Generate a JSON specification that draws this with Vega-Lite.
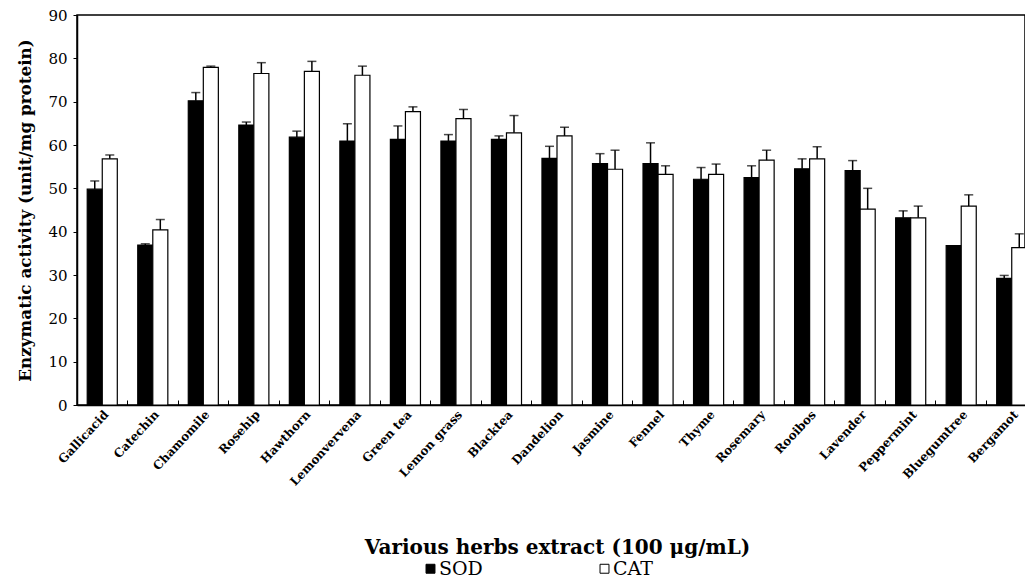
{
  "$schema": "https://vega.github.io/schema/vega-lite/v6.json",
  "autosize": {"type": "none"},
  "width": 948,
  "height": 390,
  "padding": {"left": 77, "top": 15, "right": 0, "bottom": 176},
  "config": {
    "font": "DejaVu Serif",
    "view": {"stroke": "black", "strokeWidth": 1.5},
    "axis": {"grid": false, "domainColor": "black", "tickColor": "black", "labelColor": "black", "titleColor": "black", "labelFont": "DejaVu Serif", "titleFont": "DejaVu Serif"},
    "legend": {"labelFont": "DejaVu Serif", "labelColor": "black"}
  },
  "data": {
    "values": [
      {"herb": "Gallicacid", "type": "SOD", "value": 49.8, "err": 1.9},
      {"herb": "Gallicacid", "type": "CAT", "value": 56.8, "err": 0.9},
      {"herb": "Catechin", "type": "SOD", "value": 36.9, "err": 0.3},
      {"herb": "Catechin", "type": "CAT", "value": 40.4, "err": 2.4},
      {"herb": "Chamomile", "type": "SOD", "value": 70.2, "err": 1.9},
      {"herb": "Chamomile", "type": "CAT", "value": 77.9, "err": 0.3},
      {"herb": "Rosehip", "type": "SOD", "value": 64.6, "err": 0.7},
      {"herb": "Rosehip", "type": "CAT", "value": 76.5, "err": 2.5},
      {"herb": "Hawthorn", "type": "SOD", "value": 61.8, "err": 1.4},
      {"herb": "Hawthorn", "type": "CAT", "value": 77.0, "err": 2.3},
      {"herb": "Lemonvervena", "type": "SOD", "value": 60.9, "err": 4.0},
      {"herb": "Lemonvervena", "type": "CAT", "value": 76.1, "err": 2.1},
      {"herb": "Green tea", "type": "SOD", "value": 61.3, "err": 3.1},
      {"herb": "Green tea", "type": "CAT", "value": 67.7, "err": 1.1},
      {"herb": "Lemon grass", "type": "SOD", "value": 60.9, "err": 1.5},
      {"herb": "Lemon grass", "type": "CAT", "value": 66.1, "err": 2.1},
      {"herb": "Blacktea", "type": "SOD", "value": 61.3, "err": 0.8},
      {"herb": "Blacktea", "type": "CAT", "value": 62.8, "err": 4.0},
      {"herb": "Dandelion", "type": "SOD", "value": 56.9, "err": 2.8},
      {"herb": "Dandelion", "type": "CAT", "value": 62.1, "err": 2.0},
      {"herb": "Jasmine", "type": "SOD", "value": 55.7, "err": 2.3},
      {"herb": "Jasmine", "type": "CAT", "value": 54.4, "err": 4.4},
      {"herb": "Fennel", "type": "SOD", "value": 55.7, "err": 4.8},
      {"herb": "Fennel", "type": "CAT", "value": 53.2, "err": 2.0},
      {"herb": "Thyme", "type": "SOD", "value": 52.1, "err": 2.7},
      {"herb": "Thyme", "type": "CAT", "value": 53.2, "err": 2.4},
      {"herb": "Rosemary", "type": "SOD", "value": 52.5, "err": 2.7},
      {"herb": "Rosemary", "type": "CAT", "value": 56.5, "err": 2.3},
      {"herb": "Rooibos", "type": "SOD", "value": 54.5, "err": 2.3},
      {"herb": "Rooibos", "type": "CAT", "value": 56.8, "err": 2.8},
      {"herb": "Lavender", "type": "SOD", "value": 54.1, "err": 2.3},
      {"herb": "Lavender", "type": "CAT", "value": 45.2, "err": 4.8},
      {"herb": "Peppermint", "type": "SOD", "value": 43.2, "err": 1.6},
      {"herb": "Peppermint", "type": "CAT", "value": 43.2, "err": 2.7},
      {"herb": "Bluegumtree", "type": "SOD", "value": 36.8, "err": null},
      {"herb": "Bluegumtree", "type": "CAT", "value": 45.9, "err": 2.6},
      {"herb": "Bergamot", "type": "SOD", "value": 29.2, "err": 0.7},
      {"herb": "Bergamot", "type": "CAT", "value": 36.3, "err": 3.2}
    ]
  },
  "encoding": {
    "x": {
      "field": "herb", "type": "nominal", "sort": null,
      "scale": {"paddingInner": 0, "paddingOuter": 0, "range": [0, 960]},
      "axis": {
        "title": "Various herbs extract (100 μg/mL)",
        "titleFontSize": 20, "titleFontWeight": "bold", "titlePadding": 50, "titleX": 480,
        "labelAngle": -47, "labelAlign": "right", "labelBaseline": "middle",
        "labelFontSize": 12, "labelFontWeight": "bold", "labelPadding": 12, "labelOffset": 4,
        "bandPosition": 0, "tickSize": -5, "tickWidth": 1, "domainWidth": 1.5
      }
    },
    "xOffset": {"field": "type", "type": "nominal", "sort": ["SOD", "CAT"], "scale": {"paddingOuter": 0.68, "paddingInner": 0}},
    "y": {
      "field": "value", "type": "quantitative",
      "scale": {"domain": [0, 90], "nice": false},
      "axis": {
        "title": "Enzymatic activity (unit/mg protein)",
        "titleFontSize": 16.8, "titleFontWeight": "bold", "titlePadding": 13,
        "values": [0, 10, 20, 30, 40, 50, 60, 70, 80, 90],
        "labelFontSize": 15, "labelPadding": 6, "tickSize": 4, "domainWidth": 1.5
      }
    }
  },
  "layer": [
    {
      "mark": {"type": "bar", "stroke": "black", "strokeWidth": 1.2},
      "encoding": {
        "fill": {
          "field": "type", "type": "nominal",
          "scale": {"domain": ["SOD", "CAT"], "range": ["black", "white"]},
          "legend": {
            "title": null, "orient": "none", "direction": "horizontal",
            "legendX": 344, "legendY": 544,
            "symbolType": "square", "symbolSize": 80, "symbolStrokeColor": "black", "symbolStrokeWidth": 1,
            "labelFontSize": 19, "labelFont": "DejaVu Serif", "labelColor": "black",
            "columnPadding": 112, "labelOffset": -1
          }
        }
      }
    },
    {
      "transform": [{"filter": "datum.err != null"}, {"calculate": "datum.value + datum.err", "as": "hi"}],
      "mark": {"type": "rule", "color": "black", "strokeWidth": 1.5},
      "encoding": {"y2": {"field": "hi"}}
    },
    {
      "transform": [{"filter": "datum.err != null"}, {"calculate": "datum.value + datum.err", "as": "hi"}],
      "mark": {"type": "tick", "color": "black", "thickness": 1.5, "size": 9, "orient": "horizontal"},
      "encoding": {"y": {"field": "hi", "type": "quantitative"}}
    }
  ]
}
